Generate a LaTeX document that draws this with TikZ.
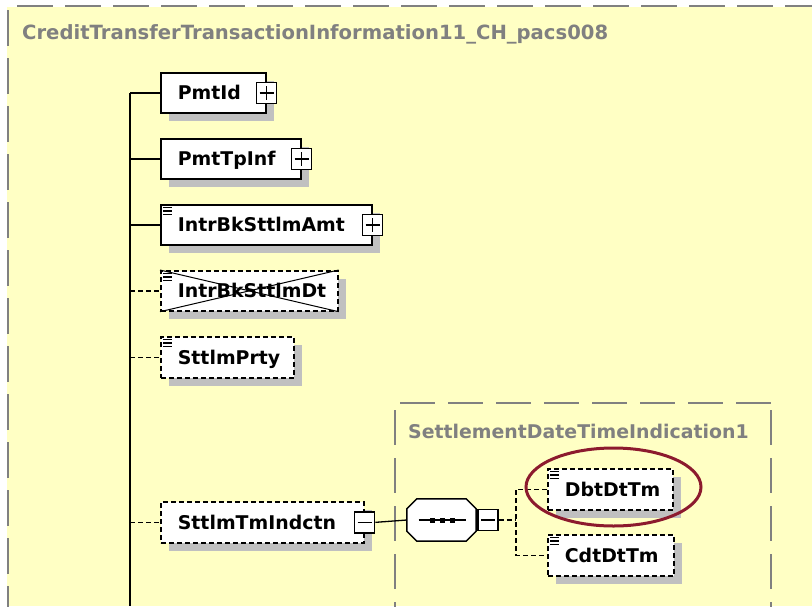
\documentclass[tikz,border=0pt]{standalone}
\usepackage{fontspec}
\setmainfont{DejaVu Sans}
\usetikzlibrary{shapes.geometric}
\definecolor{bgy}{HTML}{FFFFC4}
\definecolor{fgray}{HTML}{808080}
\definecolor{shd}{HTML}{C0C0C0}
\definecolor{ered}{HTML}{8C1A2E}
\newcommand{\lab}[2]{\makebox[#1pt][l]{\hspace{17pt}#2}}
\tikzset{
 elem/.style={draw, line width=1.7pt, fill=white, anchor=north west, inner sep=0pt,
   minimum height=40pt, text height=18pt, text depth=4pt,
   font=\fontsize{18.9}{20}\selectfont\bfseries,
   preaction={fill=shd, transform canvas={xshift=8pt,yshift=-8pt}}},
 optel/.style={elem, dash pattern=on 5pt off 3pt},
 pm/.style={draw, line width=1.3pt, fill=white, anchor=center, inner sep=0pt,
   minimum width=20pt, minimum height=21pt},
 conn/.style={line width=1.8pt},
 thinconn/.style={line width=1.3pt},
 optconn/.style={line width=1.6pt, dash pattern=on 5pt off 3pt},
 ttl/.style={text=fgray, inner sep=0pt, anchor=base west},
 frame/.style={fgray, line width=2pt, dash pattern=on 36pt off 12pt},
 iframe/.style={fgray, line width=1.6pt, dash pattern=on 35pt off 13pt},
}
\newcommand{\docicon}[1]{%
  \foreach \dy in {3.5,7,10.5}{\draw[line width=1.1pt] ([shift={(3,\dy)}]#1.north west) -- ++(9,0);}}
\newcommand{\plusmark}[1]{%
  \draw[line width=1.3pt] ([xshift=-7pt]#1.center) -- ([xshift=7pt]#1.center);
  \draw[line width=1.3pt] ([yshift=-7pt]#1.center) -- ([yshift=7pt]#1.center);}
\newcommand{\minusmark}[1]{%
  \draw[line width=1.3pt] ([xshift=-7pt]#1.center) -- ([xshift=7pt]#1.center);}
\begin{document}
\begin{tikzpicture}[x=1pt,y=-1pt]
\useasboundingbox (0,0) rectangle (812,606);
% outer container
\fill[bgy] (7,7) rectangle (812,606);
\draw[frame] (17,6) -- (830,6);
\draw[frame] (8,10) -- (8,640);
\node[ttl, font=\fontsize{19.6}{21}\selectfont\bfseries] (outtitle) at (22,39) {CreditTransferTransactionInformation11\_CH\_pacs008};
% inner container
\draw[iframe] (400,403) -- (771,403);
\draw[iframe] (395,410) -- (395,640);
\draw[iframe] (771,410) -- (771,640);
\node[ttl, font=\fontsize{18.9}{20}\selectfont\bfseries] (intitle) at (408,438) {SettlementDateTimeIndication1};
% trunk
\coordinate (tx) at (130,606);
% elements
\node[elem] (pmtid) at (160,72) {\lab{105}{PmtId}};
\node[elem] (pmttp) at (160,138) {\lab{140}{PmtTpInf}};
\node[elem] (amt) at (160,204) {\lab{211}{IntrBkSttlmAmt}};
\node[optel] (dt) at (160,270) {\lab{177}{IntrBkSttlmDt}};
\node[optel, minimum height=41pt] (prty) at (160,336) {\lab{133}{SttlmPrty}};
\node[optel, minimum height=41pt] (tmi) at (160,501) {\lab{203}{SttlmTmIndctn}};
\node[optel, minimum height=41pt] (dbt) at (547,468) {\lab{125}{DbtDtTm}};
\node[optel, minimum height=41pt] (cdt) at (547,534) {\lab{126}{CdtDtTm}};
% icons
\docicon{amt}\docicon{dt}\docicon{prty}\docicon{dbt}\docicon{cdt}
\draw[line width=1pt] (dt.north west) -- (dt.south east);
\draw[line width=1pt] (dt.south west) -- (dt.north east);
% expand boxes
\node[pm] (p1) at (pmtid.east) {}; \plusmark{p1}
\node[pm] (p2) at (pmttp.east) {}; \plusmark{p2}
\node[pm] (p3) at (amt.east) {}; \plusmark{p3}
\node[pm] (m1) at (tmi.east) {}; \minusmark{m1}
% sequence compositor
\node[inner sep=0pt, minimum width=69pt, minimum height=42pt] (seq) at (441.5,520) {};
\fill[shd, shift={(8,8)}] ([xshift=10pt]seq.north west) -- ([xshift=-10pt]seq.north east)
  -- ([yshift=-10pt]seq.north east) -- ([yshift=10pt]seq.south east)
  -- ([xshift=-10pt]seq.south east) -- ([xshift=10pt]seq.south west)
  -- ([yshift=10pt]seq.south west) -- ([yshift=-10pt]seq.north west) -- cycle;
\filldraw[fill=white, draw=black, line width=1.5pt] ([xshift=10pt]seq.north west) -- ([xshift=-10pt]seq.north east)
  -- ([yshift=-10pt]seq.north east) -- ([yshift=10pt]seq.south east)
  -- ([xshift=-10pt]seq.south east) -- ([xshift=10pt]seq.south west)
  -- ([yshift=10pt]seq.south west) -- ([yshift=-10pt]seq.north west) -- cycle;
\draw[line width=1.3pt] ([xshift=-23pt]seq.center) -- ([xshift=24pt]seq.center);
\foreach \dx in {-9,1,11}{\fill ([shift={(\dx-2.5,-2.5)}]seq.center) rectangle ++(5,5);}
\node[pm, anchor=west] (m2) at ([xshift=1pt]seq.east) {}; \minusmark{m2}
% connectors
\draw[conn] (pmtid.west -| tx) -- (tx);
\draw[conn] (pmtid.west -| tx) -- (pmtid.west);
\draw[conn] (pmttp.west -| tx) -- (pmttp.west);
\draw[conn] (amt.west -| tx) -- (amt.west);
\draw[optconn] (dt.west -| tx) -- (dt.west);
\draw[optconn] (prty.west -| tx) -- (prty.west);
\draw[optconn] (tmi.west -| tx) -- (tmi.west);
\draw[thinconn] (m1.east) -- (seq.west);
\coordinate (fork) at (516,520);
\draw[optconn] (m2.east) -- (fork);
\draw[optconn] (dbt.west) -| (fork) |- (cdt.west);
% highlight
\node[ellipse, draw=ered, line width=3pt, minimum width=175pt, minimum height=78pt] (mark) at (613.5,487) {};
\end{tikzpicture}
\end{document}
